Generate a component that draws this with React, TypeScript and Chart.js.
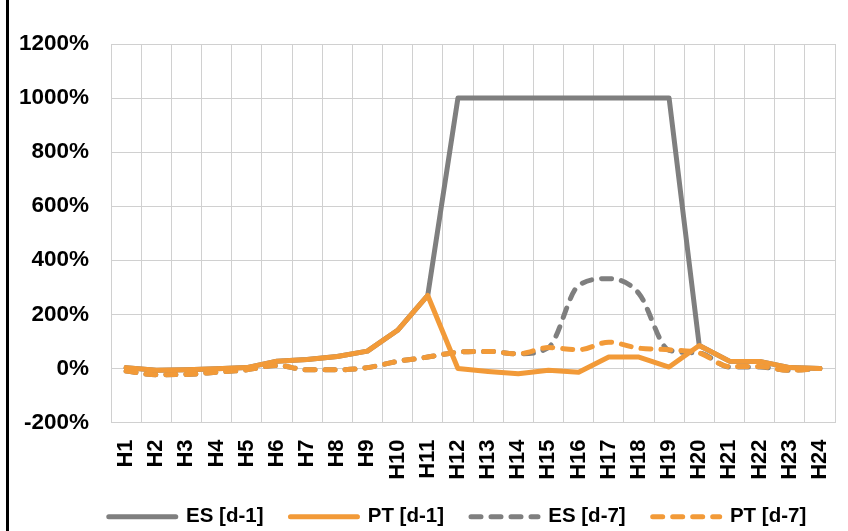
import React, { useEffect, useRef } from "react";
import { Chart, registerables } from "chart.js";

Chart.register(...registerables);

const categories = ["H1","H2","H3","H4","H5","H6","H7","H8","H9","H10","H11","H12","H13","H14","H15","H16","H17","H18","H19","H20","H21","H22","H23","H24"];

const esD1 = [3, -7, -5, -1, 3, 27, 33, 44, 64, 141, 270, 1000, 1000, 1000, 1000, 1000, 1000, 1000, 1000, 85, 27, 26, 3, 0];
const ptD1 = [3, -7, -5, -1, 3, 27, 33, 44, 64, 141, 270, 0, -11, -20, -7, -14, 42, 42, 5, 85, 27, 26, 3, 0];
const esD7 = [-10, -23, -22, -14, -5, 11, -5, -5, 3, 26, 42, 60, 63, 54, 77, 307, 332, 277, 67, 57, 5, 5, -7, 0];
const ptD7 = [-10, -23, -22, -14, -5, 11, -5, -5, 3, 26, 42, 60, 63, 54, 77, 69, 97, 75, 69, 57, 7, 7, -7, 0];

const seriesLabels = ["ES [d-1]", "PT [d-1]", "ES [d-7]", "PT [d-7]"];
const yMin = -200;
const yMax = 1200;
const yStep = 200;

const GRAY = "#7f7f7f";
const ORANGE = "#f29a38";
const FONT = "'Liberation Sans', Arial, sans-serif";

export default function App() {
  const ref = useRef<HTMLCanvasElement | null>(null);

  useEffect(() => {
    if (!ref.current) return;
    const common = {
      borderWidth: 5,
      pointRadius: 0,
      pointHoverRadius: 0,
      fill: false,
      borderCapStyle: "round" as const,
      borderJoinStyle: "round" as const,
    };
    const chart = new Chart(ref.current, {
      type: "line",
      data: {
        labels: categories,
        datasets: [
          { ...common, label: seriesLabels[0], data: esD1, borderColor: GRAY, backgroundColor: GRAY, order: 4, tension: 0 },
          { ...common, label: seriesLabels[1], data: ptD1, borderColor: ORANGE, backgroundColor: ORANGE, order: 1, tension: 0 },
          { ...common, label: seriesLabels[2], data: esD7, borderColor: GRAY, backgroundColor: GRAY, order: 3, borderDash: [10, 10], cubicInterpolationMode: "monotone" },
          { ...common, label: seriesLabels[3], data: ptD7, borderColor: ORANGE, backgroundColor: ORANGE, order: 2, borderDash: [10, 10], cubicInterpolationMode: "monotone" },
        ],
      },
      options: {
        responsive: false,
        animation: false,
        devicePixelRatio: 1,
        layout: { padding: { top: 44, left: 16, right: 0, bottom: 0 } },
        plugins: {
          tooltip: { enabled: false },
          legend: {
            position: "bottom",
            labels: {
              usePointStyle: true,
              pointStyle: "line",
              pointStyleWidth: 67,
              padding: 27,
              color: "#000",
              font: { family: FONT, size: 20.5, weight: "bold" },
              sort: (a: any, b: any) => a.datasetIndex - b.datasetIndex,
              generateLabels: (c: any) => {
                const items = Chart.defaults.plugins.legend.labels.generateLabels(c);
                return items.map((it: any) => {
                  const ds: any = c.data.datasets[it.datasetIndex];
                  return {
                    ...it,
                    pointStyle: "line",
                    lineWidth: 5,
                    lineCap: "round",
                    lineDash: ds.borderDash || [],
                    strokeStyle: ds.borderColor,
                    fillStyle: ds.borderColor,
                  };
                });
              },
            },
          },
        },
        scales: {
          x: {
            type: "category",
            offset: true,
            grid: { offset: true, color: "#d0d0d0", lineWidth: 1, drawTicks: false },
            border: { display: false },
            afterFit: (scale: any) => { scale.height = 57; },
            ticks: {
              autoSkip: false,
              maxRotation: 90,
              minRotation: 90,
              padding: 17,
              color: "#000",
              font: { family: FONT, size: 22, weight: "bold" },
            },
          },
          y: {
            min: yMin,
            max: yMax,
            grid: { color: "#d0d0d0", lineWidth: 1, drawTicks: false },
            border: { display: false },
            afterFit: (scale: any) => { scale.width = 95; },
            ticks: {
              stepSize: yStep,
              padding: 22,
              color: "#000",
              font: { family: FONT, size: 22.5, weight: "bold" },
              callback: (v: any) => `${v}%`,
            },
          },
          y2: {
            type: "linear",
            position: "right",
            display: true,
            grid: { display: false, drawTicks: false },
            border: { display: false },
            ticks: { display: false },
            afterFit: (scale: any) => { scale.width = 64; },
          },
        },
      },
    });
    return () => chart.destroy();
  }, []);

  return (
    <div style={{ position: "fixed", left: 0, top: 0, width: 848, height: 531, overflow: "hidden", background: "#fff" }}>
      <canvas ref={ref} width={899} height={537} style={{ display: "block" }} />
      <div style={{ position: "absolute", left: 6, top: 0, width: 3, height: 531, background: "#000" }} />
    </div>
  );
}
